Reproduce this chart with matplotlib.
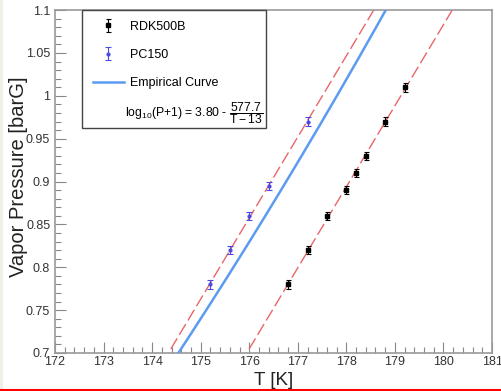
import numpy as np
import matplotlib
matplotlib.use("Agg")
import matplotlib.pyplot as plt
from matplotlib.lines import Line2D
from matplotlib.patches import Rectangle
from matplotlib.ticker import MultipleLocator

plt.rcParams['font.family'] = ['Liberation Sans', 'DejaVu Sans']
plt.rcParams['mathtext.fontset'] = 'custom'
plt.rcParams['mathtext.rm'] = 'Liberation Sans'
plt.rcParams['mathtext.it'] = 'Liberation Sans'

# measured points
rdk_T = [176.8, 177.2, 177.6, 178.0, 178.2, 178.4, 178.8, 179.2]
rdk_P = [0.78, 0.82, 0.86, 0.89, 0.91, 0.93, 0.97, 1.01]
pc_T = [175.2, 175.6, 176.0, 176.4, 177.2]
pc_P = [0.78, 0.82, 0.86, 0.895, 0.97]
p_err = 0.005

# empirical curve log10(P+1) = A - B/(T - C)
curve_A = 3.80
curve_B = 577.7
curve_C = 12.7

fig = plt.figure(figsize=(5.02, 3.91), dpi=100)
ax = fig.add_axes([0.1096, 0.0972, 0.8705, 0.877])

T = np.linspace(172, 181, 400)

# linear fits (red dashed)
for tt, pp in [(pc_T, pc_P), (rdk_T, rdk_P)]:
    k, b = np.polyfit(tt, pp, 1)
    ax.plot(T, k * T + b, color='#e8666a', lw=1.0, dashes=(9, 3), zorder=2)

P_curve = 10 ** (curve_A - curve_B / (T - curve_C)) - 1
curve, = ax.plot(T, P_curve, color='#5b9bf0', lw=1.8, zorder=3)

rdk = ax.errorbar(rdk_T, rdk_P, yerr=p_err, fmt='s', color='black', ms=3,
                  elinewidth=0.8, capsize=1.8, capthick=0.8, zorder=4)
pc = ax.errorbar(pc_T, pc_P, yerr=p_err, fmt='o', color='#4a4ae0', ms=2,
                 elinewidth=0.8, capsize=2, capthick=0.8, zorder=4)

ax.set_xlim(172, 181)
ax.set_ylim(0.7, 1.1)
ax.xaxis.set_major_locator(MultipleLocator(1))
ax.xaxis.set_minor_locator(MultipleLocator(0.2))
ax.yaxis.set_minor_locator(MultipleLocator(0.01))
ax.set_yticks([0.7, 0.75, 0.8, 0.85, 0.9, 0.95, 1.0, 1.05, 1.1])
ax.set_yticklabels(['0.7', '0.75', '0.8', '0.85', '0.9', '0.95', '1', '1.05', '1.1'])

ax.tick_params(which='both', direction='in', colors='#888888', labelcolor='#333333',
               labelsize=9, top=False, right=False)
ax.tick_params(which='major', length=8, width=0.8)
ax.tick_params(which='minor', length=4, width=0.8)
ax.tick_params(axis='x', pad=2)
ax.tick_params(axis='y', pad=3.5)
for s in ax.spines.values():
    s.set_color('#999999')
    s.set_linewidth(1.2)

ax.set_xlabel('T [K]', fontsize=13.5, color='#222222', labelpad=3)
ax.set_ylabel('Vapor Pressure [barG]', fontsize=14.5, color='#222222')
ax.yaxis.set_label_coords(-0.062, 0.515)

blank = Line2D([], [], linestyle='none')
leg = ax.legend([rdk, pc, curve, blank],
                ['RDK500B', 'PC150', 'Empirical Curve', ' '],
                loc='upper left', bbox_to_anchor=(0.062, 1.0, 0.421, 0.0),
                mode='expand', fontsize=9, frameon=True, fancybox=False,
                framealpha=1, edgecolor='#444444', borderaxespad=0,
                handlelength=2.5, handletextpad=0.5, labelspacing=1.3,
                borderpad=0.85)
leg.get_frame().set_linewidth(1.0)
ax.text(0.16, 0.70, r'log$_{10}$(P+1) = 3.80 - $\dfrac{577.7}{T - 13}$',
        transform=ax.transAxes, fontsize=8.7, va='center', ha='left', zorder=6)

# page edges of the original screenshot
fig.add_artist(Rectangle((0, 0), 3 / 502, 1, transform=fig.transFigure,
                         color='#f2efe6', lw=0))
fig.add_artist(Line2D([0, 1], [1.5 / 391, 1.5 / 391], transform=fig.transFigure,
                      color='red', lw=1.5))

fig.savefig('out.png', dpi=100)
